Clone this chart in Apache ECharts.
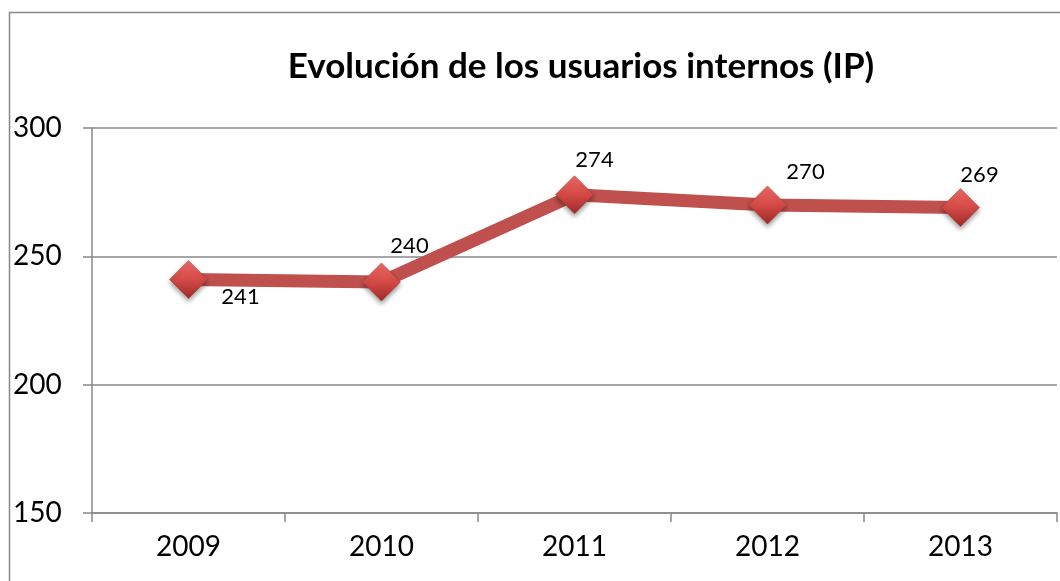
<!DOCTYPE html>
<html>
<head>
  <meta charset="utf-8">
  <title>Evolución de los usuarios internos (IP)</title>
  <script src="https://cdn.jsdelivr.net/npm/echarts@6/dist/echarts.min.js"></script>
  <style>
    html, body { margin: 0; padding: 0; background: #fff; }
    #chart { width: 1060px; height: 581px; }
  </style>
</head>
<body>
  <div id="chart"></div>
  <script>
    // data
    const years = ['2009', '2010', '2011', '2012', '2013'];
    const users = [241, 240, 274, 270, 269];
    const yTicks = [150, 200, 250, 300];

    // where each value label sits relative to its point (x, y in px)
    const labelOffsets = [[52, 17], [28, -36], [20, -35], [38, -33], [19, -33]];

    const chart = echarts.init(document.getElementById('chart'));
    const font = 'Lato, "Open Sans", sans-serif';

    const points = users.map(function (v, i) {
      return {
        value: v,
        label: { offset: labelOffsets[i] }
      };
    });

    chart.setOption({
      animation: false,
      title: {
        text: 'Evolución de los usuarios internos (IP)',
        left: 576,
        top: 44,
        textAlign: 'center',
        textStyle: { fontFamily: font, fontWeight: 'bold', fontSize: 35, color: '#000' }
      },
      graphic: [{
        type: 'rect',
        shape: { x: 9.5, y: 12.5, width: 1200, height: 700 },
        style: { fill: 'none', stroke: '#888', lineWidth: 1.5 },
        silent: true
      }],
      grid: { left: 92, right: 3, top: 128, bottom: 68, containLabel: false },
      xAxis: {
        type: 'category',
        data: years,
        boundaryGap: true,
        axisLine: { lineStyle: { color: '#888', width: 1.5 } },
        axisTick: { show: true, length: 9, interval: 0, lineStyle: { color: '#888', width: 1.5 } },
        axisLabel: { fontFamily: font, fontSize: 28, color: '#000', margin: 20 }
      },
      yAxis: {
        type: 'value',
        min: yTicks[0],
        max: yTicks[yTicks.length - 1],
        interval: 50,
        axisLine: { show: true, lineStyle: { color: '#888', width: 1.5 } },
        axisTick: { show: true, length: 9, lineStyle: { color: '#888', width: 1.5 } },
        splitLine: { lineStyle: { color: '#888', width: 1.5 } },
        axisLabel: { fontFamily: font, fontSize: 28, color: '#000', align: 'left', margin: 79 }
      },
      series: [{
        type: 'line',
        data: points,
        symbol: 'diamond',
        symbolSize: 38,
        lineStyle: { color: '#C0504D', width: 13 },
        itemStyle: {
          color: {
            type: 'linear', x: 0, y: 0, x2: 0, y2: 1,
            colorStops: [
              { offset: 0, color: '#ee6a66' },
              { offset: 0.5, color: '#d44a46' },
              { offset: 1, color: '#9e2a27' }
            ]
          },
          borderColor: '#a33a37',
          borderWidth: 0.5,
          shadowColor: 'rgba(0,0,0,0.4)',
          shadowBlur: 5,
          shadowOffsetY: 3
        },
        label: {
          show: true,
          position: 'inside',
          fontFamily: font,
          fontSize: 22,
          color: '#000'
        },
        emphasis: { disabled: true }
      }]
    });
  </script>
</body>
</html>
